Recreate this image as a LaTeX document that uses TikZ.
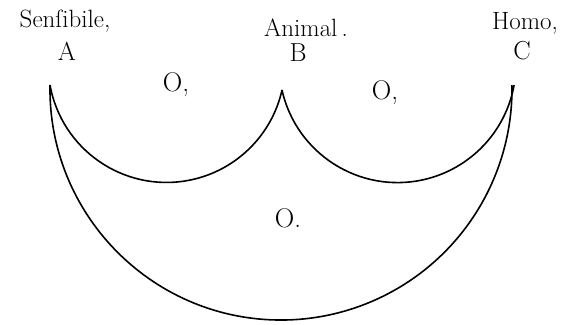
\documentclass[tikz,border=0pt]{standalone}
\usepackage{fontspec}
\usepackage{tikz}

\begin{document}
\begin{tikzpicture}[x=1pt, y=1pt, line width=1.6pt,
    word/.style={inner sep=0pt, font=\fontsize{25}{25}\selectfont},
    letter/.style={inner sep=0pt, font=\fontsize{26}{26}\selectfont},
    region/.style={inner sep=0pt, font=\fontsize{27}{27}\selectfont}]
  \useasboundingbox (0,0) rectangle (569,-324);
  \coordinate (A) at (50,-85);
  \coordinate (B) at (282,-90);
  \coordinate (C) at (510,-85);
  \draw (A) arc[start angle=190.2, end angle=347.4, radius=118.4];
  \draw (B) arc[start angle=192.6, end angle=349.8, radius=118.4];
  \draw (A) arc[start angle=179, end angle=361, radius=231];
  \node[word] (sens) at (65,-21) {Senſibile,};
  \node[letter] (a) at (67,-51) {A};
  \node[word] (anim) at (306,-28) {Animal\,.};
  \node[letter] (b) at (298,-53) {B};
  \node[word] (homo) at (525,-23) {Homo,};
  \node[letter] (c) at (522,-51) {C};
  \node[region] (o1) at (176,-85) {O,};
  \node[region] (o2) at (385,-93) {O,};
  \node[region] (o3) at (288,-218) {O.};
\end{tikzpicture}
\end{document}
